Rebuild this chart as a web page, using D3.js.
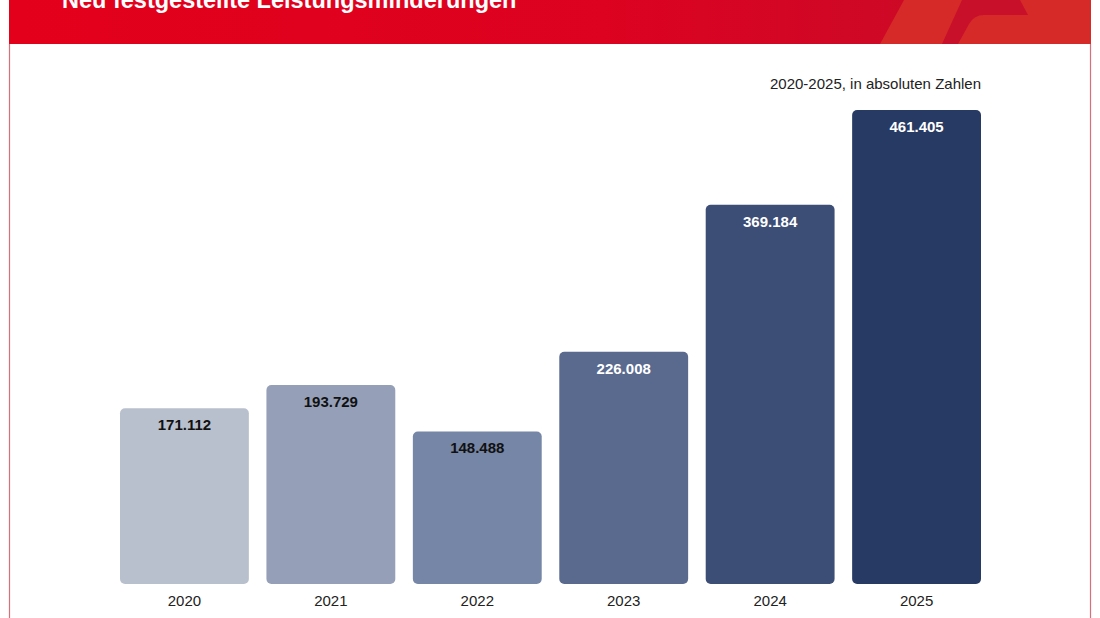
<!DOCTYPE html>
<html>
<head>
<meta charset="utf-8">
<script src="https://cdn.jsdelivr.net/npm/d3@7"></script>
<style>
  body { margin: 0; background: #fff; }
  svg { display: block; font-family: "Liberation Sans", Arial, sans-serif; }
</style>
</head>
<body>
<svg id="chart" width="1100" height="618"></svg>
<script>
// Daten
var jahre = ["2020", "2021", "2022", "2023", "2024", "2025"],
    werte = [171112, 193729, 148488, 226008, 369184, 461405],
    farben = ["#b9c0cd", "#95a0b8", "#7686a6", "#5a6a8f", "#3c4d76", "#273a63"],
    labelFarben = ["#111", "#111", "#111", "#fff", "#fff", "#fff"],
    titel = "Neu festgestellte Leistungsminderungen",
    untertitel = "2020-2025, in absoluten Zahlen";

var svg = d3.select("#chart"),
    frame = {l: 9, r: 1091, head: 44},
    plot = {l: 120, r: 981, base: 584, top: 110};

// Header mit Verlauf
var defs = svg.append("defs");
var grad = defs.append("linearGradient").attr("id", "hg").attr("x1", "0").attr("x2", "1");
grad.append("stop").attr("offset", "0").attr("stop-color", "#e3001b");
grad.append("stop").attr("offset", "0.55").attr("stop-color", "#dc0220");
grad.append("stop").attr("offset", "1").attr("stop-color", "#c40d2a");

svg.append("path")
    .attr("d", `M${frame.l},${frame.head} L${frame.l},-10 L${frame.r},-10 L${frame.r},${frame.head} Z`)
    .attr("fill", "url(#hg)");

// Deko rechts
svg.append("path")
    .attr("d", "M880,44 L904,0 L1091,0 L1091,44 Z")
    .attr("fill", "#d52a28");
svg.append("path")
    .attr("d", "M942,44 L962,0 L1020,0 L1028,15 L984,15 Q974,15 969,24 L958,44 Z")
    .attr("fill", "#c8102a");

// Titel (oben angeschnitten wie im Original)
svg.append("text")
    .attr("x", 62).attr("y", 8)
    .attr("fill", "#fff")
    .attr("font-size", 23.5).attr("font-weight", "bold")
    .text(titel);

// Rahmen
svg.append("path")
    .attr("d", `M${frame.l + 0.5},${frame.head} L${frame.l + 0.5},620 M${frame.r - 0.5},${frame.head} L${frame.r - 0.5},620`)
    .attr("stroke", "#d8707c").attr("stroke-width", 1.2).attr("fill", "none");

// Skalen
var x = d3.scaleBand().domain(jahre).range([plot.l, plot.r]).paddingInner(0.12).paddingOuter(0);
var y = d3.scaleLinear().domain([0, d3.max(werte)]).range([plot.base, plot.top]);

var daten = jahre.map(function (j, i) { return {jahr: j, wert: werte[i], farbe: farben[i], lf: labelFarben[i]}; });

var fmt = function (v) { return d3.format(",")(v).replace(/,/g, "."); };

var bars = svg.append("g").selectAll("g").data(daten).enter().append("g");

bars.append("rect")
    .attr("x", function (d) { return x(d.jahr); })
    .attr("y", function (d) { return y(d.wert); })
    .attr("width", x.bandwidth())
    .attr("height", function (d) { return plot.base - y(d.wert); })
    .attr("rx", 5).attr("ry", 5)
    .attr("fill", function (d) { return d.farbe; });

bars.append("text")
    .attr("x", function (d) { return x(d.jahr) + x.bandwidth() / 2; })
    .attr("y", function (d) { return y(d.wert) + 22; })
    .attr("text-anchor", "middle")
    .attr("font-size", 15).attr("font-weight", "bold")
    .attr("fill", function (d) { return d.lf; })
    .text(function (d) { return fmt(d.wert); });

// x-Achse (nur Beschriftung)
var xAxis = svg.append("g")
    .attr("transform", `translate(0,${plot.base})`)
    .call(d3.axisBottom(x).tickSize(0).tickPadding(11));
xAxis.select(".domain").remove();
xAxis.selectAll("text").attr("font-size", 15).attr("fill", "#222").attr("font-family", "Liberation Sans, Arial, sans-serif");

svg.append("text")
    .attr("x", plot.r).attr("y", 89)
    .attr("text-anchor", "end")
    .attr("font-size", 15).attr("fill", "#222")
    .text(untertitel);
</script>
</body>
</html>
